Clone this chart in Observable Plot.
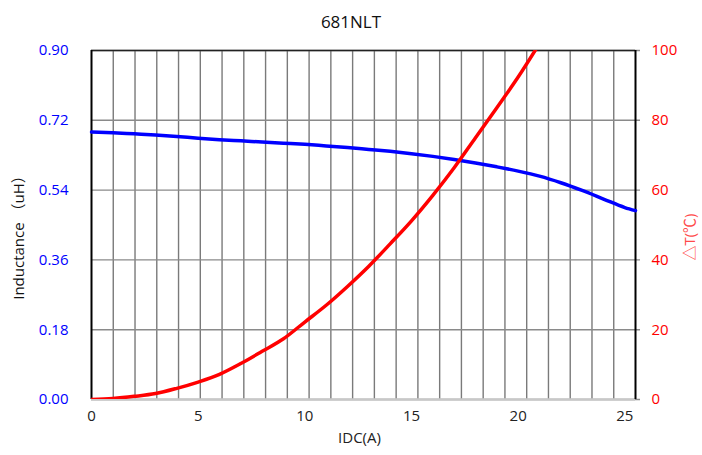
<!DOCTYPE html>
<html><head><meta charset="utf-8">
<script src="https://cdn.jsdelivr.net/npm/d3@7"></script>
<script src="https://cdn.jsdelivr.net/npm/@observablehq/plot@0.6"></script>
<style>
body{margin:0;background:#fff;}
#wrap{position:relative;width:702px;height:455px;font-family:"Open Sans","Noto Sans CJK SC",sans-serif;}
#title{position:absolute;left:0;top:10px;width:702px;text-align:center;font-size:17px;line-height:24px;color:#111;z-index:2;}
#wrap svg{position:absolute;left:0;top:0;}
</style></head><body><div id="wrap"><div id="title">681NLT</div></div>
<script>
// Inductance vs DC current
const indCurrent = [0,1,2,3,4,5,6,7,8,9,10,11,12,13,14,15,16,17,18,19,20,21,22,23,24,25,25.5];
const inductance = [0.690,0.688,0.685,0.682,0.678,0.674,0.670,0.667,0.664,0.661,0.658,0.654,0.650,0.645,0.640,0.634,0.627,0.619,0.610,0.600,0.589,0.576,0.559,0.539,0.517,0.495,0.487];
// Temperature rise vs DC current
const tempCurrent = [0,1,2,3,4,5,6,7,8,9,10,11,12,13,14,15,16,17,18,19,20,21];
const tempRise = [0,0.3,0.9,1.7,3.2,5.0,7.2,10.3,13.8,17.4,22.2,27.0,32.4,38.2,44.6,51.2,58.5,66.4,75.0,83.6,92.4,102];
// Axes
const xTicks = [0,5,10,15,20,25];
const xMax = 25.5;
const gridDivisions = 25;
const yTicks = [0,0.18,0.36,0.54,0.72,0.90];
const tTicks = [0,20,40,60,80,100];
const yMax = 0.9, tMax = 100;

const indData = indCurrent.map((x,i)=>({x, v: inductance[i]}));
const tData = tempCurrent.map((x,i)=>({x, t: tempRise[i]}));
const vGrid = d3.range(1, gridDivisions).map(i => i * xMax / gridDivisions);
const toY = t => t * yMax / tMax;

const font = "'Open Sans','Noto Sans CJK SC',sans-serif";

const chart = Plot.plot({
  width: 702, height: 455,
  marginTop: 50, marginBottom: 56, marginLeft: 91, marginRight: 67,
  style: {fontFamily: font, background: "#fff"},
  x: {domain: [0, xMax]},
  y: {domain: [0, yMax]},
  marks: [
    Plot.ruleX(vGrid, {stroke: "#7a7a7a", strokeWidth: 1.4}),
    Plot.ruleY(yTicks, {stroke: "#8a8a8a", strokeWidth: 1.4, insetRight: -5}),
    // frame
    Plot.ruleY([0], {stroke: "#c8c8c8", strokeWidth: 2.5}),
    Plot.ruleY([yMax], {stroke: "#222", strokeWidth: 1.5}),
    Plot.ruleX([0, xMax], {stroke: "#000", strokeWidth: 2}),
    Plot.line(indData, {x: "x", y: "v", stroke: "#0000ff", strokeWidth: 3.5, curve: "monotone-x"}),
    Plot.line(tData, {x: "x", y: d => toY(d.t), stroke: "#ff0000", strokeWidth: 3.5, curve: "monotone-x", clip: true}),
    Plot.axisY(yTicks, {anchor: "left", tickSize: 0, tickPadding: 23, tickFormat: d3.format(".2f"), color: "#0000ff", fontSize: 15, label: null}),
    Plot.axisY(tTicks.map(toY), {anchor: "right", tickSize: 0, tickPadding: 16, tickFormat: (d,i) => tTicks[i], color: "#ff0000", fontSize: 15, label: null}),
    Plot.axisX(xTicks, {anchor: "bottom", tickSize: 0, tickPadding: 11, color: "#222", fontSize: 15, label: null}),
    Plot.text(["IDC(A)"], {frameAnchor: "bottom", lineAnchor: "middle", dy: 39, dx: -4, text: d => d, fontSize: 15, fill: "#222"}),
    Plot.text(["Inductance （uH）"], {frameAnchor: "left", textAnchor: "middle", lineAnchor: "middle", dx: -72, dy: 9, rotate: -90, text: d => d, fontSize: 15, fill: "#111"}),
    Plot.text(["△T(℃)"], {frameAnchor: "right", textAnchor: "middle", lineAnchor: "middle", dx: 55, dy: 12, rotate: -90, text: d => d, fontSize: 15, fill: "#ff4a4a"})
  ]
});
document.getElementById("wrap").appendChild(chart);
</script>
</body></html>
